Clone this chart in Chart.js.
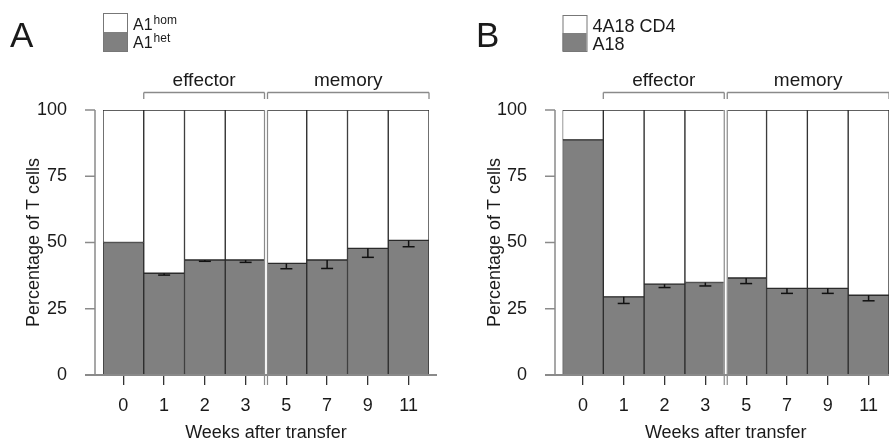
<!DOCTYPE html>
<html>
<head>
<meta charset="utf-8">
<script src="https://cdn.jsdelivr.net/npm/chart.js@4"></script>
<style>
body{margin:0;background:#fff;width:889px;height:444px;overflow:hidden;position:relative}
canvas{position:absolute;top:0}
#chartA{left:0}
#chartB{left:445px}
</style>
</head>
<body>
<canvas id="chartA" width="445" height="444"></canvas>
<canvas id="chartB" width="444" height="444"></canvas>
<script>
const semanas=['0','1','2','3','5','7','9','11']
const grupos=['effector','memory']

// panel A (porcentajes)
const a1het=[50,38.4,43.4,43.4,42.1,43.4,47.8,50.8]
const a1hom=[50,61.6,56.6,56.6,57.9,56.6,52.2,49.2]
const errA=[0,0.7,0.5,0.9,2.0,3.2,3.4,2.4]

// panel B
const a18=[88.7,29.5,34.3,34.9,36.6,32.7,32.7,30.1]
const cd4=[11.3,70.5,65.7,65.1,63.4,67.3,67.3,69.9]
const errB=[0,2.5,1.3,1.3,2.1,1.9,1.9,2.1]

const yTicks=[0,25,50,75,100]

const FUENTE='"Liberation Sans", Arial, Helvetica, sans-serif'
const gris='#808080'
const borde='#2b2b2b'
const lineaGris='#8a8a8a'
const texto='#1a1a1a'

function linea(ctx,x1,y1,x2,y2){
    ctx.beginPath()
    ctx.moveTo(x1,y1)
    ctx.lineTo(x2,y2)
    ctx.stroke()
}

function crearPanel(id,cfg){
    const extras={
        id:'extras'+id,
        afterDraw(chart){
            const ctx=chart.ctx
            const x=chart.scales.x
            const y=chart.scales.y
            const area=chart.chartArea
            const ancho=x.getPixelForValue(1)-x.getPixelForValue(0)
            ctx.save()

            //barras de error (solo hacia abajo)
            ctx.strokeStyle='#111'
            ctx.lineWidth=1.5
            cfg.err.forEach((e,i)=>{
                if(!e) return
                const cx=x.getPixelForValue(i)
                const y0=y.getPixelForValue(cfg.bajo[i])
                const y1=y.getPixelForValue(cfg.bajo[i]-e)
                linea(ctx,cx,y0,cx,y1)
                linea(ctx,cx-6,y1,cx+6,y1)
            })

            //separador doble entre semana 3 y 5
            const div=(x.getPixelForValue(3)+x.getPixelForValue(4))/2
            ctx.fillStyle='#fff'
            ctx.fillRect(div-2,area.top-1,4,area.bottom-area.top+12)
            ctx.strokeStyle=lineaGris
            ctx.lineWidth=1.2
            linea(ctx,div-1.5,area.top,div-1.5,area.bottom+10)
            linea(ctx,div+1.5,area.top,div+1.5,area.bottom+10)

            //eje y
            const ax=area.left-cfg.sepEje
            ctx.lineWidth=1.5
            linea(ctx,ax,y.getPixelForValue(100),ax,y.getPixelForValue(0))
            yTicks.forEach(v=>{
                const py=y.getPixelForValue(v)
                linea(ctx,ax-10,py,ax,py)
            })
            //linea base
            ctx.lineWidth=2
            linea(ctx,ax-10,area.bottom,cfg.finBase,area.bottom)

            //corchetes effector / memory
            const izq=x.getPixelForValue(1)-ancho/2
            const der=x.getPixelForValue(7)+ancho/2
            const tramos=[[izq,div-1.5],[div+1.5,der]]
            ctx.lineWidth=1.3
            ctx.font='19px '+FUENTE
            ctx.textAlign='center'
            ctx.textBaseline='alphabetic'
            tramos.forEach((t,k)=>{
                ctx.strokeStyle=lineaGris
                linea(ctx,t[0],99,t[0],92.5)
                linea(ctx,t[0],92.5,t[1],92.5)
                linea(ctx,t[1],92.5,t[1],99)
                ctx.fillStyle=texto
                ctx.fillText(grupos[k],(t[0]+t[1])/2,86)
            })

            //leyenda
            const lx=area.left
            ctx.fillStyle='#fff'
            ctx.fillRect(lx,cfg.legTop,24,(51-cfg.legTop)/2)
            ctx.fillStyle=gris
            ctx.fillRect(lx,cfg.legTop+(51-cfg.legTop)/2,24,(51-cfg.legTop)/2)
            ctx.strokeStyle='#777'
            ctx.lineWidth=1
            ctx.strokeRect(lx+0.5,cfg.legTop+0.5,24,51-cfg.legTop)
            ctx.fillStyle=texto
            ctx.textAlign='left'
            cfg.leyenda.forEach((l,k)=>{
                const by=k==0?cfg.base1:cfg.base2
                ctx.font=cfg.legFont+'px '+FUENTE
                ctx.fillText(l[0],lx+30,by)
                if(l[1]){
                    const w=ctx.measureText(l[0]).width
                    ctx.font='12px '+FUENTE
                    ctx.fillText(l[1],lx+31+w,by-6)
                }
            })

            //letra del panel
            ctx.font='35px '+FUENTE
            ctx.fillText(cfg.letra,cfg.letraX,47)
            ctx.restore()
        }
    }

    return new Chart(document.getElementById(id),{
        type:'bar',
        data:{
            labels:semanas,
            datasets:[
                {label:cfg.leyenda[1].join(''),data:cfg.bajo,backgroundColor:gris,borderColor:borde,borderWidth:1,borderSkipped:false,categoryPercentage:1,barPercentage:1},
                {label:cfg.leyenda[0].join(''),data:cfg.alto,backgroundColor:'#fff',borderColor:borde,borderWidth:1,borderSkipped:false,categoryPercentage:1,barPercentage:1}
            ]
        },
        options:{
            responsive:false,
            animation:false,
            devicePixelRatio:1,
            layout:{padding:{top:110,left:0,right:cfg.derecha,bottom:0}},
            plugins:{legend:{display:false},tooltip:{enabled:false}},
            scales:{
                x:{
                    stacked:true,
                    grid:{display:true,drawOnChartArea:false,drawTicks:true,tickLength:10,offset:false,color:'#333',lineWidth:1.3},
                    border:{display:false},
                    ticks:{color:texto,font:{family:FUENTE,size:18},padding:10,maxRotation:0,autoSkip:false},
                    title:{display:true,text:'Weeks after transfer',color:texto,font:{family:FUENTE,size:18},padding:{top:0,bottom:0}},
                    afterFit:s=>{s.height=69}
                },
                y:{
                    stacked:true,
                    min:0,max:100,
                    grid:{display:false},
                    border:{display:false},
                    ticks:{stepSize:25,color:texto,font:{family:FUENTE,size:18},padding:cfg.padTick},
                    title:{display:true,text:'Percentage of T cells',color:texto,font:{family:FUENTE,size:18},padding:{top:cfg.padTitulo,bottom:0}},
                    afterFit:s=>{s.width=cfg.izquierda}
                }
            }
        },
        plugins:[extras]
    })
}

const chartA=crearPanel('chartA',{
    bajo:a1het,alto:a1hom,err:errA,
    leyenda:[['A1','hom'],['A1','het']],
    izquierda:103,derecha:16,padTick:28,padTitulo:23,sepEje:8,finBase:437,
    legTop:13,legFont:16,base1:30,base2:48,
    letra:'A',letraX:10
})

const chartB=crearPanel('chartB',{
    bajo:a18,alto:cd4,err:errB,
    leyenda:[['4A18 CD4',''],['A18','']],
    izquierda:117.5,derecha:0,padTick:27.5,padTitulo:39,sepEje:7.5,finBase:444,
    legTop:15,legFont:18,base1:32,base2:50,
    letra:'B',letraX:31
})
</script>
</body>
</html>
